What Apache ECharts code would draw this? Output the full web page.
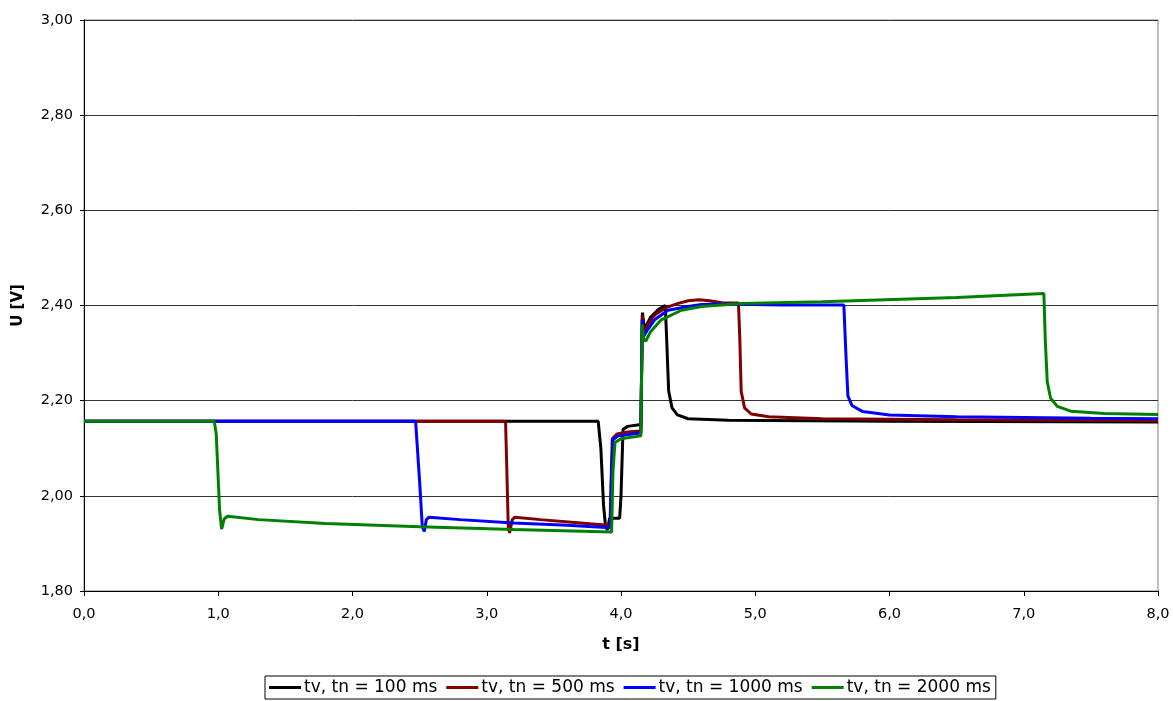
<!DOCTYPE html>
<html>
<head>
<meta charset="utf-8">
<script src="https://cdn.jsdelivr.net/npm/echarts@6/dist/echarts.min.js"></script>
<style>
  html, body { margin: 0; padding: 0; background: #ffffff; }
  #chart { width: 1173px; height: 701px; }
</style>
</head>
<body>
<div id="chart"></div>
<script>
// Voltage response U [V] over time t [s] for four tv/tn settings
var seriesNames = ['tv, tn = 100 ms', 'tv, tn = 500 ms', 'tv, tn = 1000 ms', 'tv, tn = 2000 ms'];
var seriesColors = ['#000000', '#800000', '#0000ff', '#008000'];

var xTicks = [0, 1, 2, 3, 4, 5, 6, 7, 8];
var yTicks = [1.8, 2.0, 2.2, 2.4, 2.6, 2.8, 3.0];

// tn = 100 ms
var t100 = [0, 3.83, 3.85, 3.87, 3.885, 3.90, 3.915, 3.99, 4.00, 4.015, 4.05, 4.148,
  4.16, 4.175, 4.22, 4.28, 4.33, 4.34, 4.355, 4.38, 4.42, 4.5, 4.8, 6.0, 8.0];
var u100 = [2.157, 2.157, 2.10, 1.98, 1.935, 1.928, 1.953, 1.953, 2.00, 2.14, 2.146, 2.150,
  2.385, 2.35, 2.375, 2.392, 2.400, 2.33, 2.22, 2.185, 2.17, 2.162, 2.159, 2.157, 2.155];

// tn = 500 ms
var t500 = [0, 3.14, 3.15, 3.16, 3.17, 3.19, 3.21, 3.4, 3.7, 3.90, 3.918, 3.928, 3.935,
  3.97, 4.05, 4.148, 4.158, 4.168, 4.2, 4.25, 4.33, 4.42, 4.5, 4.58, 4.66, 4.75, 4.875, 4.885,
  4.895, 4.92, 4.97, 5.1, 5.5, 6.5, 8.0];
var u500 = [2.157, 2.157, 2.05, 1.935, 1.922, 1.950, 1.955, 1.950, 1.943, 1.938, 1.937, 2.05, 2.12,
  2.130, 2.134, 2.136, 2.38, 2.342, 2.36, 2.38, 2.395, 2.404, 2.410, 2.412, 2.410, 2.406, 2.405, 2.33,
  2.22, 2.185, 2.172, 2.166, 2.162, 2.160, 2.158];

// tn = 1000 ms
var t1000 = [0, 2.47, 2.50, 2.52, 2.535, 2.55, 2.57, 2.8, 3.2, 3.6, 3.92, 3.93, 3.94,
  3.98, 4.148, 4.158, 4.168, 4.2, 4.25, 4.35, 4.5, 4.6, 4.75, 5.2, 5.66, 5.675, 5.69, 5.72,
  5.8, 6.0, 6.5, 7.5, 8.0];
var u1000 = [2.157, 2.157, 2.03, 1.935, 1.925, 1.950, 1.955, 1.950, 1.943, 1.938, 1.933, 2.05, 2.118,
  2.126, 2.132, 2.37, 2.335, 2.35, 2.37, 2.39, 2.398, 2.402, 2.403, 2.401, 2.401, 2.30, 2.21, 2.19,
  2.177, 2.17, 2.166, 2.163, 2.162];

// tn = 2000 ms
var t2000 = [0, 0.97, 0.985, 1.01, 1.025, 1.045, 1.07, 1.3, 1.8, 2.5, 3.2, 3.93, 3.94,
  3.955, 4.0, 4.148, 4.158, 4.17, 4.185, 4.22, 4.3, 4.45, 4.6, 4.9, 5.5, 6.5, 7.15,
  7.16, 7.175, 7.2, 7.25, 7.35, 7.6, 8.0];
var u2000 = [2.157, 2.157, 2.13, 1.97, 1.93, 1.952, 1.957, 1.950, 1.942, 1.935, 1.929, 1.924, 2.05,
  2.112, 2.12, 2.126, 2.36, 2.33, 2.325, 2.345, 2.37, 2.39, 2.398, 2.404, 2.408, 2.417, 2.425,
  2.33, 2.24, 2.205, 2.188, 2.178, 2.173, 2.171];

var tData = [t100, t500, t1000, t2000];
var uData = [u100, u500, u1000, u2000];

function pairs(ts, us) {
  var out = [];
  for (var i = 0; i < ts.length; i++) out.push([ts[i], us[i]]);
  return out;
}

var font = '"DejaVu Sans", Verdana, sans-serif';

var series = seriesNames.map(function (name, k) {
  return {
    name: name,
    type: 'line',
    data: pairs(tData[k], uData[k]),
    showSymbol: false,
    symbol: 'none',
    lineStyle: { color: seriesColors[k], width: 3 },
    itemStyle: { color: seriesColors[k] },
    animation: false
  };
});

var chart = echarts.init(document.getElementById('chart'), null, { renderer: 'canvas' });
chart.setOption({
  backgroundColor: '#ffffff',
  animation: false,
  grid: {
    left: 84, right: 15, top: 20, bottom: 110,
    show: true, borderColor: '#808080', borderWidth: 1, backgroundColor: 'transparent'
  },
  xAxis: {
    type: 'value',
    min: xTicks[0], max: xTicks[xTicks.length - 1], interval: 1,
    name: 't [s]', nameLocation: 'middle', nameGap: 46,
    nameTextStyle: { fontFamily: font, fontSize: 16, fontWeight: 'bold', color: '#000' },
    axisLine: { show: true, lineStyle: { color: '#000', width: 1 } },
    axisTick: { show: true, length: 5, lineStyle: { color: '#000' } },
    axisLabel: {
      fontFamily: font, fontSize: 14.5, color: '#000', margin: 16,
      formatter: function (v) { return v.toFixed(1).replace('.', ','); }
    },
    splitLine: { show: false }
  },
  yAxis: {
    type: 'value',
    min: yTicks[0], max: yTicks[yTicks.length - 1], interval: 0.2,
    name: 'U [V]', nameLocation: 'middle', nameGap: 58, nameRotate: 90,
    nameTextStyle: { fontFamily: font, fontSize: 15, fontWeight: 'bold', color: '#000' },
    axisLine: { show: true, lineStyle: { color: '#000', width: 1 } },
    axisTick: { show: true, length: 4, lineStyle: { color: '#000' } },
    axisLabel: {
      fontFamily: font, fontSize: 14.5, color: '#000', margin: 11,
      formatter: function (v) { return v.toFixed(2).replace('.', ','); }
    },
    splitLine: { show: true, lineStyle: { color: '#333', width: 1 } }
  },
  legend: {
    data: seriesNames,
    left: 265, top: 676,
    orient: 'horizontal',
    icon: 'rect', itemWidth: 32, itemHeight: 3, itemGap: 9,
    padding: [3, 5, 3, 4],
    borderColor: '#000', borderWidth: 1,
    textStyle: { fontFamily: font, fontSize: 17, color: '#000', padding: [0, 0, 0, -2] }
  },
  series: series
});
</script>
</body>
</html>
